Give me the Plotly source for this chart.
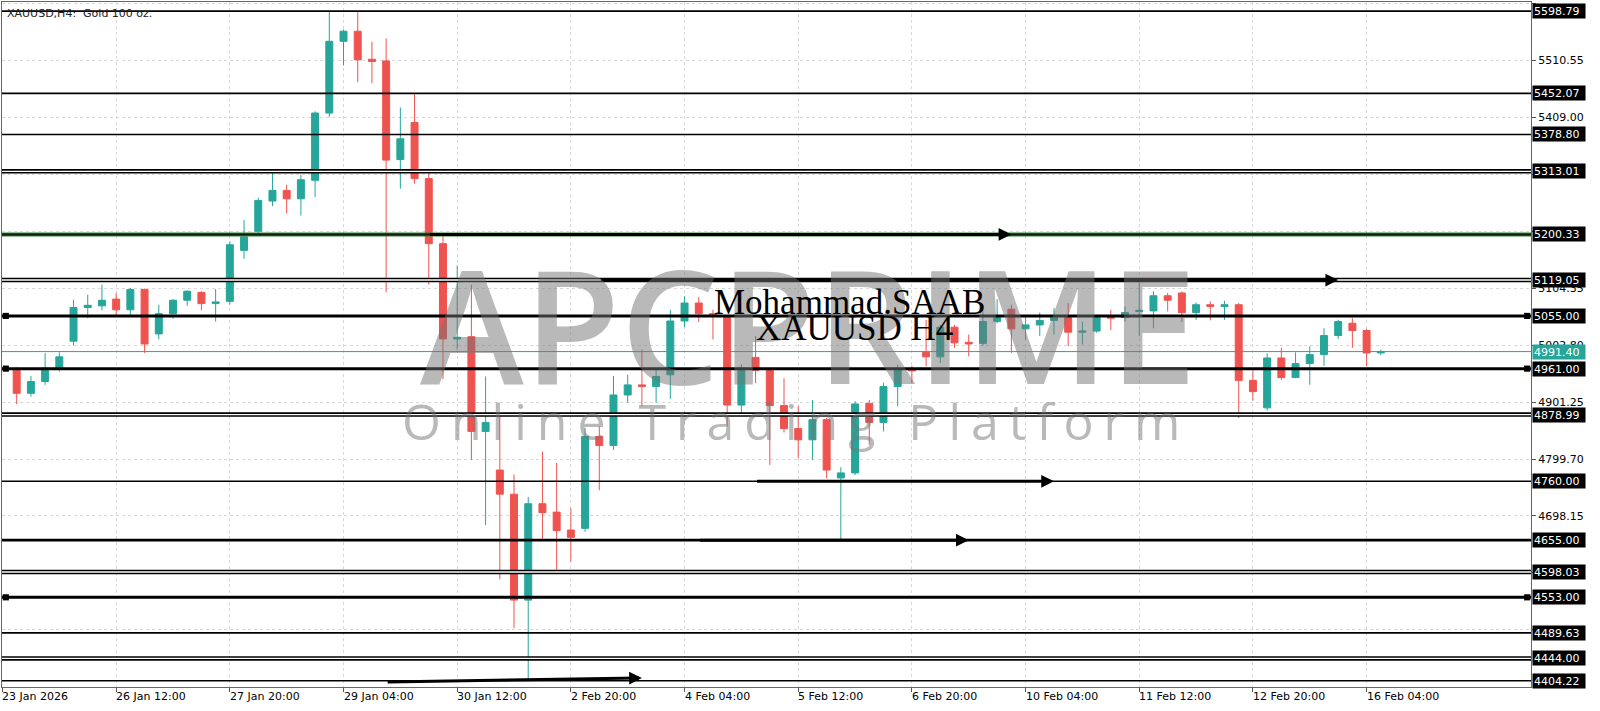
import plotly.graph_objects as go

# ---------------- data ----------------
tick_idx = [-1, 7, 15, 23, 31, 39, 47, 55, 63, 71, 79, 87, 95]
tick_labels = ["23 Jan 2026", "26 Jan 12:00", "27 Jan 20:00", "29 Jan 04:00", "30 Jan 12:00",
               "2 Feb 20:00", "4 Feb 04:00", "5 Feb 12:00", "6 Feb 20:00", "10 Feb 04:00",
               "11 Feb 12:00", "12 Feb 20:00", "16 Feb 04:00"]

opens = [4960, 4917, 4938, 4962, 5010, 5070, 5073, 5085, 5066, 5102,
         5023, 5059, 5083, 5097, 5077, 5081, 5172, 5206, 5260, 5279,
         5264, 5297, 5417, 5545, 5563, 5513, 5510, 5334, 5400, 5300,
         5184, 5014, 5018, 4849, 4780, 4737, 4548, 4720, 4705, 4673,
         4676, 4840, 4824, 4914, 4932, 4929, 4950, 5046, 5078, 5059,
         5055, 4896, 4981, 4958, 4895, 4854, 4834, 4870, 4766, 4775,
         4899, 4865, 4929, 4960, 4990, 4982, 5035, 5008, 5006, 5045,
         5067, 5032, 5039, 5047, 5052, 5026, 5028, 5054, 5052, 5063,
         5064, 5091, 5096, 5061, 5075, 5072, 5075, 4940, 4891, 4980,
         4945, 4970, 4986, 5020, 5042, 5029, 4989]
highs = [4963, 4948, 4989, 4990, 5084, 5093, 5111, 5096, 5105, 5104,
         5075, 5085, 5101, 5099, 5103, 5188, 5226, 5266, 5313, 5289,
         5307, 5420, 5599, 5566, 5597, 5544, 5550, 5427, 5451, 5311,
         5200, 5145, 5111, 4947, 4882, 4772, 4732, 4813, 4793, 4712,
         4855, 4858, 4948, 4950, 4995, 4962, 5066, 5090, 5089, 5066,
         5057, 4969, 5019, 4962, 4944, 4894, 4905, 4873, 4785, 4903,
         4905, 4936, 4968, 4966, 5048, 5039, 5039, 5022, 5063, 5085,
         5075, 5054, 5061, 5069, 5078, 5045, 5057, 5066, 5072, 5117,
         5099, 5096, 5099, 5079, 5081, 5082, 5078, 4958, 4988, 4998,
         4990, 5001, 5033, 5048, 5051, 5032, 4995]
lows = [4898, 4911, 4932, 4956, 5002, 5051, 5065, 5055, 5055, 4989,
        5013, 5050, 5073, 5065, 5045, 5075, 5157, 5200, 5251, 5238,
        5234, 5267, 5410, 5502, 5472, 5470, 5097, 5282, 5291, 5111,
        4942, 4995, 4798, 4682, 4585, 4498, 4404, 4657, 4595, 4617,
        4670, 4744, 4816, 4900, 4894, 4900, 4907, 5035, 5044, 5013,
        4858, 4876, 4935, 4789, 4847, 4801, 4798, 4765, 4655, 4771,
        4825, 4849, 4894, 4935, 4965, 4971, 4998, 4983, 5002, 5042,
        4989, 5013, 5019, 5022, 5001, 5004, 5025, 5030, 5045, 5019,
        5033, 5063, 5044, 5048, 5047, 5048, 4873, 4904, 4886, 4941,
        4944, 4932, 4966, 5014, 4998, 4965, 4985]
closes = [4917, 4938, 4962, 4982, 5070, 5074, 5083, 5066, 5102, 5005,
          5059, 5083, 5099, 5077, 5080, 5182, 5196, 5261, 5279, 5264,
          5298, 5417, 5545, 5563, 5512, 5509, 5333, 5371, 5300, 5184,
          5014, 5017, 4849, 4865, 4737, 4548, 4720, 4704, 4672, 4660,
          4840, 4824, 4914, 4932, 4929, 4947, 5046, 5078, 5059, 5055,
          4896, 4962, 4958, 4895, 4854, 4834, 4870, 4780, 4775, 4898,
          4865, 4929, 4959, 4957, 4982, 5035, 5007, 5005, 5045, 5052,
          5032, 5039, 5047, 5052, 5026, 5028, 5052, 5051, 5061, 5065,
          5091, 5083, 5061, 5075, 5072, 5075, 4940, 4920, 4980, 4945,
          4970, 4986, 5020, 5045, 5029, 4989, 4991.4]

price_ticks = [5613.10, 5510.55, 5409.00, 5307.45, 5205.90, 5104.35, 5002.80,
               4901.25, 4799.70, 4698.15, 4596.60, 4495.05]
# tick labels fully hidden behind level boxes in the original are left blank
hidden_ticks = [5307.45, 5205.90, 4596.60, 4495.05]

levels = [5598.79, 5452.07, 5378.80, 5313.01, 5200.33, 5119.05, 5055.00, 4961.00,
          4878.99, 4760.00, 4655.00, 4598.03, 4553.00, 4489.63, 4444.00, 4404.22]
level_styles = ["thin", "thin", "thin", "double", "green", "double", "thick", "thick",
                "double", "thin", "medium", "double", "thick", "thin", "double", "thin"]
current_price = 4991.40

arrow_start = [29, 41, 52, 48, 26]
arrow_end = [70, 93, 73, 67, 44]
arrow_y0 = [5200.33, 5119.05, 4760.00, 4655.00, 4402.0]
arrow_y1 = [5200.33, 5119.05, 4760.00, 4655.00, 4409.0]

UP = "#26a69a"
DN = "#ef5350"
FONT = "DejaVu Sans"
WM = "rgba(115,115,115,0.5)"

fig = go.Figure()
fig.add_trace(go.Candlestick(
    x=list(range(len(opens))), open=opens, high=highs, low=lows, close=closes,
    increasing=dict(line=dict(color=UP, width=1), fillcolor=UP),
    decreasing=dict(line=dict(color=DN, width=1), fillcolor=DN),
    whiskerwidth=0, showlegend=False, hoverinfo="skip"))

shapes = []
annotations = []

# horizontal levels
for lvl, st in zip(levels, level_styles):
    base = dict(type="line", xref="paper", x0=0, x1=1, yref="y", y0=lvl, y1=lvl, layer="above")
    if st == "thin":
        shapes.append({**base, "line": dict(color="black", width=1.6)})
    elif st == "medium":
        shapes.append({**base, "line": dict(color="black", width=2.6)})
    elif st == "thick":
        shapes.append({**base, "line": dict(color="black", width=3)})
        for xa, xb in [(0.0005, 0.0045), (0.9955, 0.9995)]:
            shapes.append(dict(type="rect", xref="paper", x0=xa, x1=xb, yref="y",
                               y0=lvl - 5.5, y1=lvl + 5.5, fillcolor="black",
                               line=dict(width=0), layer="above"))
    elif st == "double":
        shapes.append({**base, "line": dict(color="black", width=4.5)})
        shapes.append({**base, "line": dict(color="white", width=1.4)})
    elif st == "green":
        shapes.append({**base, "line": dict(color="#2e7d32", width=4)})
        shapes.append({**base, "line": dict(color="#0b1f0b", width=2)})

# current price line
shapes.append(dict(type="line", xref="paper", x0=0, x1=1, yref="y", y0=current_price,
                   y1=current_price, line=dict(color=UP, width=1), layer="above"))

# arrows
for xs, xe, ya, yb in zip(arrow_start, arrow_end, arrow_y0, arrow_y1):
    annotations.append(dict(x=xe, y=yb, xref="x", yref="y", ax=xs, ay=ya, axref="x", ayref="y",
                            text="", showarrow=True, arrowhead=2, arrowsize=0.85,
                            arrowwidth=3, arrowcolor="black", standoff=0, startstandoff=0))

# level labels on right axis
for lvl in levels:
    annotations.append(dict(xref="paper", x=1, xanchor="left", xshift=1, yref="y", y=lvl,
                            yanchor="middle", text=f"{lvl:.2f}", showarrow=False,
                            bgcolor="black", font=dict(color="white", size=11, family=FONT),
                            borderpad=1, width=50, height=12, align="left"))
annotations.append(dict(xref="paper", x=1, xanchor="left", xshift=1, yref="y", y=current_price,
                        yanchor="middle", text=f"{current_price:.2f}", showarrow=False,
                        bgcolor=UP, font=dict(color="white", size=11, family=FONT),
                        borderpad=1, width=50, height=12, align="left"))

# x-axis labels (left-aligned at ticks, MT4 style)
for ti, tl in zip(tick_idx, tick_labels):
    annotations.append(dict(x=ti, xref="x", y=0, yref="paper", yanchor="top", xanchor="left",
                            xshift=-2, yshift=-1, text=tl, showarrow=False,
                            font=dict(size=11, family=FONT, color="black")))

# chart caption
annotations.append(dict(xref="paper", x=0, xanchor="left", xshift=3, yref="paper", y=1,
                        yanchor="top", yshift=-3, text="XAUUSD,H4:  Gold 100 oz.",
                        showarrow=False, font=dict(size=11, family=FONT, color="#222")))

# watermark
annotations.append(dict(xref="paper", yref="paper", x=0.5275, y=0.5307, text="APCPRIME",
                        showarrow=False, xanchor="center", yanchor="middle",
                        font=dict(size=157, family="Open Sans", weight=600, color=WM)))
annotations.append(dict(xref="paper", yref="paper", x=0.5193, y=0.389,
                        text="Online Trading Platform", showarrow=False,
                        xanchor="center", yanchor="middle",
                        font=dict(size=50, family="Open Sans", color=WM)))

# author text
annotations.append(dict(xref="paper", yref="paper", x=0.5543, y=(687 - 302) / 685,
                        text="Mohammad.SAAB", showarrow=False, xanchor="center", yanchor="middle",
                        font=dict(size=35, family="Liberation Serif", color="black")))
annotations.append(dict(xref="paper", yref="paper", x=0.5576, y=(687 - 328) / 685,
                        text="XAUUSD H4", showarrow=False, xanchor="center", yanchor="middle",
                        font=dict(size=35, family="Liberation Serif", color="black")))

fig.update_layout(
    width=1600, height=711, autosize=False,
    margin=dict(l=2, r=69, t=2, b=24, pad=0),
    paper_bgcolor="white", plot_bgcolor="white", showlegend=False,
    font=dict(family=FONT, size=11, color="black"),
    shapes=shapes, annotations=annotations,
)
fig.update_xaxes(range=[-1.034, 106.57], rangeslider_visible=False, tickvals=tick_idx,
                 showticklabels=False, ticks="outside", ticklen=4, tickcolor="#555",
                 showgrid=True, gridcolor="#d8d8d8", griddash="dot", gridwidth=1,
                 showline=True, linecolor="#666", linewidth=1, mirror=True, zeroline=False)
fig.update_yaxes(range=[4392.98, 5615.11], side="right", tickvals=price_ticks,
                 ticktext=["" if v in hidden_ticks else f"{v:.2f}" for v in price_ticks],
                 ticks="outside", ticklen=4,
                 tickcolor="#555", tickfont=dict(size=11, family=FONT, color="black"),
                 showgrid=True, gridcolor="#d8d8d8", griddash="dot", gridwidth=1,
                 showline=True, linecolor="#666", linewidth=1, mirror=True, zeroline=False)

post = """
document.body.style.margin='0';
document.body.style.overflow='hidden';
document.querySelectorAll('text.annotation-text').forEach(function(t){
  if (t.textContent === 'Online Trading Platform') { t.style.letterSpacing = '10px'; }
});
"""
fig.write_html("out.html", config={"displayModeBar": False}, post_script=post)
